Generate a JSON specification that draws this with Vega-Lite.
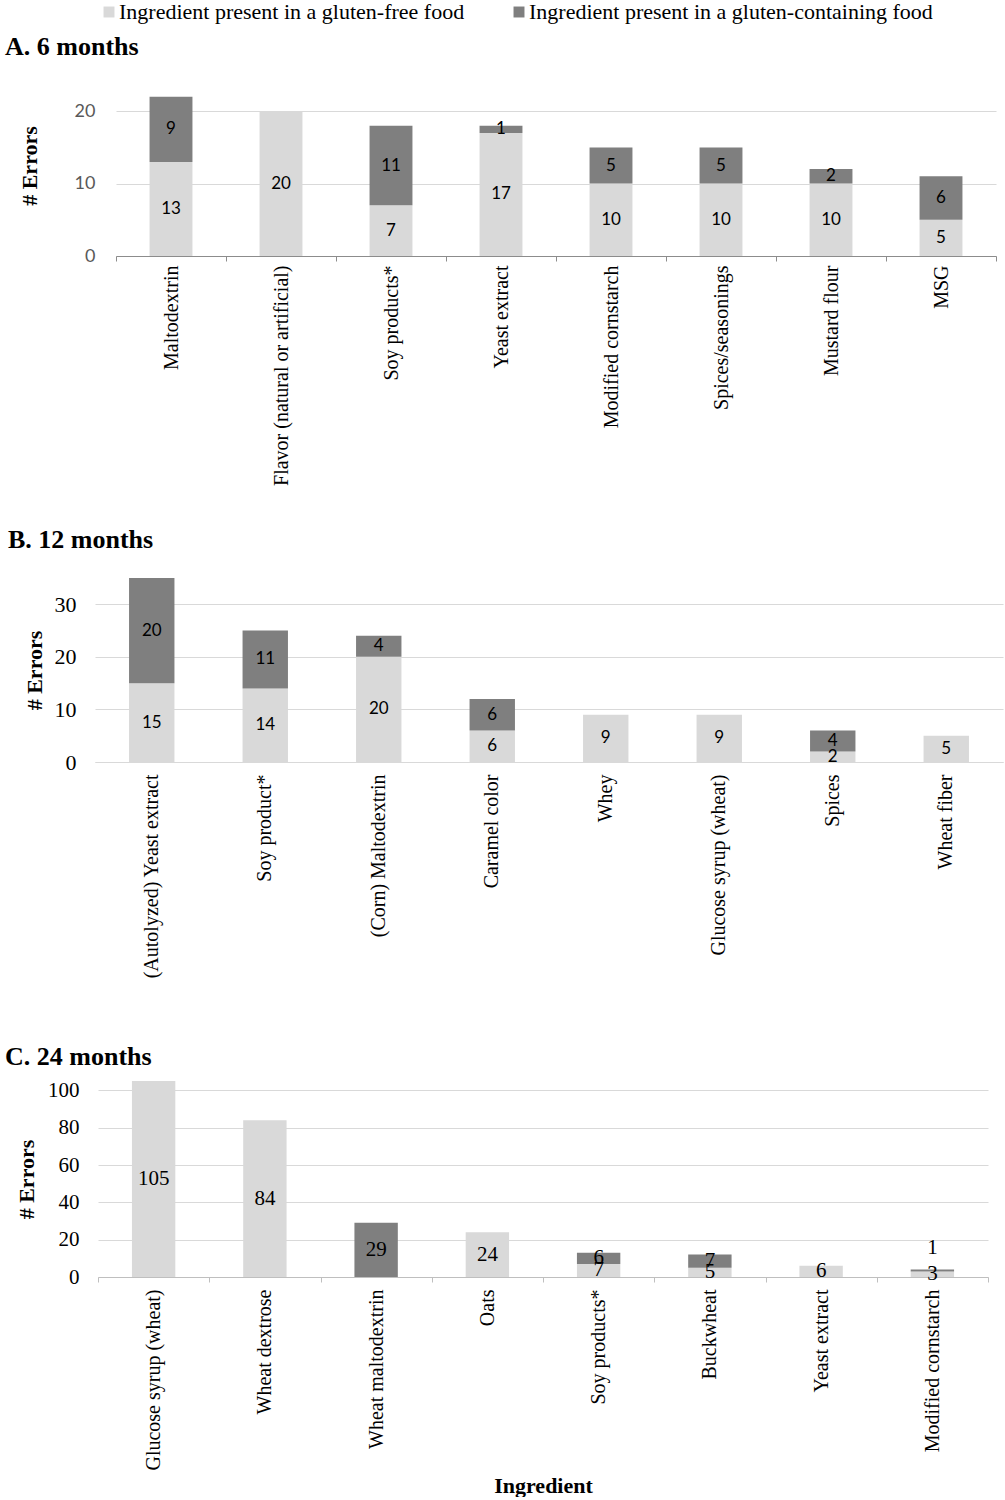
{
  "$schema": "https://vega.github.io/schema/vega-lite/v6.json",
  "padding": {"left": 5, "top": 1, "right": 0, "bottom": 0},
  "background": "white",
  "data": {"values": [
    {"panel": "A", "ingredient": "Maltodextrin", "type": "Ingredient present in a gluten-free food", "errors": 13},
    {"panel": "A", "ingredient": "Maltodextrin", "type": "Ingredient present in a gluten-containing food", "errors": 9},
    {"panel": "A", "ingredient": "Flavor (natural or artificial)", "type": "Ingredient present in a gluten-free food", "errors": 20},
    {"panel": "A", "ingredient": "Soy products*", "type": "Ingredient present in a gluten-free food", "errors": 7},
    {"panel": "A", "ingredient": "Soy products*", "type": "Ingredient present in a gluten-containing food", "errors": 11},
    {"panel": "A", "ingredient": "Yeast extract", "type": "Ingredient present in a gluten-free food", "errors": 17},
    {"panel": "A", "ingredient": "Yeast extract", "type": "Ingredient present in a gluten-containing food", "errors": 1},
    {"panel": "A", "ingredient": "Modified cornstarch", "type": "Ingredient present in a gluten-free food", "errors": 10},
    {"panel": "A", "ingredient": "Modified cornstarch", "type": "Ingredient present in a gluten-containing food", "errors": 5},
    {"panel": "A", "ingredient": "Spices/seasonings", "type": "Ingredient present in a gluten-free food", "errors": 10},
    {"panel": "A", "ingredient": "Spices/seasonings", "type": "Ingredient present in a gluten-containing food", "errors": 5},
    {"panel": "A", "ingredient": "Mustard flour", "type": "Ingredient present in a gluten-free food", "errors": 10},
    {"panel": "A", "ingredient": "Mustard flour", "type": "Ingredient present in a gluten-containing food", "errors": 2},
    {"panel": "A", "ingredient": "MSG", "type": "Ingredient present in a gluten-free food", "errors": 5},
    {"panel": "A", "ingredient": "MSG", "type": "Ingredient present in a gluten-containing food", "errors": 6},
    {"panel": "B", "ingredient": "(Autolyzed) Yeast extract", "type": "Ingredient present in a gluten-free food", "errors": 15},
    {"panel": "B", "ingredient": "(Autolyzed) Yeast extract", "type": "Ingredient present in a gluten-containing food", "errors": 20},
    {"panel": "B", "ingredient": "Soy product*", "type": "Ingredient present in a gluten-free food", "errors": 14},
    {"panel": "B", "ingredient": "Soy product*", "type": "Ingredient present in a gluten-containing food", "errors": 11},
    {"panel": "B", "ingredient": "(Corn) Maltodextrin", "type": "Ingredient present in a gluten-free food", "errors": 20},
    {"panel": "B", "ingredient": "(Corn) Maltodextrin", "type": "Ingredient present in a gluten-containing food", "errors": 4},
    {"panel": "B", "ingredient": "Caramel color", "type": "Ingredient present in a gluten-free food", "errors": 6},
    {"panel": "B", "ingredient": "Caramel color", "type": "Ingredient present in a gluten-containing food", "errors": 6},
    {"panel": "B", "ingredient": "Whey", "type": "Ingredient present in a gluten-free food", "errors": 9},
    {"panel": "B", "ingredient": "Glucose syrup (wheat)", "type": "Ingredient present in a gluten-free food", "errors": 9},
    {"panel": "B", "ingredient": "Spices", "type": "Ingredient present in a gluten-free food", "errors": 2},
    {"panel": "B", "ingredient": "Spices", "type": "Ingredient present in a gluten-containing food", "errors": 4},
    {"panel": "B", "ingredient": "Wheat fiber", "type": "Ingredient present in a gluten-free food", "errors": 5},
    {"panel": "C", "ingredient": "Glucose syrup (wheat)", "type": "Ingredient present in a gluten-free food", "errors": 105},
    {"panel": "C", "ingredient": "Wheat dextrose", "type": "Ingredient present in a gluten-free food", "errors": 84},
    {"panel": "C", "ingredient": "Wheat maltodextrin", "type": "Ingredient present in a gluten-containing food", "errors": 29},
    {"panel": "C", "ingredient": "Oats", "type": "Ingredient present in a gluten-free food", "errors": 24},
    {"panel": "C", "ingredient": "Soy products*", "type": "Ingredient present in a gluten-free food", "errors": 7},
    {"panel": "C", "ingredient": "Soy products*", "type": "Ingredient present in a gluten-containing food", "errors": 6},
    {"panel": "C", "ingredient": "Buckwheat", "type": "Ingredient present in a gluten-free food", "errors": 5},
    {"panel": "C", "ingredient": "Buckwheat", "type": "Ingredient present in a gluten-containing food", "errors": 7},
    {"panel": "C", "ingredient": "Yeast extract", "type": "Ingredient present in a gluten-free food", "errors": 6},
    {"panel": "C", "ingredient": "Modified cornstarch", "type": "Ingredient present in a gluten-free food", "errors": 3},
    {"panel": "C", "ingredient": "Modified cornstarch", "type": "Ingredient present in a gluten-containing food", "errors": 1}
  ]},
  "spacing": 65,
  "vconcat": [
    {
      "spacing": 41,
      "vconcat": [
        {
          "title": {"text": "A. 6 months", "anchor": "start", "frame": "group", "dx": -93, "offset": 15, "font": "Liberation Serif", "fontSize": 26, "fontWeight": "bold", "color": "#000000"},
          "width": 898,
          "height": 181,
          "layer": [
            {
              "transform": [{"filter": "datum.panel === 'A'"}],
              "mark": {"type": "bar", "width": {"band": 0.39}},
              "encoding": {
                "x": {"field": "ingredient", "type": "nominal", "sort": ["Maltodextrin", "Flavor (natural or artificial)", "Soy products*", "Yeast extract", "Modified cornstarch", "Spices/seasonings", "Mustard flour", "MSG"], "scale": {"paddingInner": 0, "paddingOuter": 0, "range": [18, 898]},
                  "axis": {"title": null, "labelAngle": -90, "labelFont": "Liberation Serif", "labelFontSize": 20, "labelColor": "#000000", "labelLimit": 400, "labelPadding": 4, "labelOverlap": false, "tickBand": "extent", "tickSize": 5, "tickColor": "#8c8c8c", "domainColor": "#8c8c8c", "grid": false}},
                "y": {"field": "errors", "type": "quantitative", "stack": "zero", "scale": {"domain": [0, 25], "nice": false},
                  "axis": {"title": "# Errors", "titleFont": "Liberation Serif", "titleFontSize": 22, "titleFontWeight": "bold", "titleColor": "#000000", "titlePadding": 33, "labelFont": "Lato", "labelFontSize": 18, "labelColor": "#595959", "labelPadding": 3, "labelOverlap": false, "values": [0, 10, 20], "tickCount": 10, "domain": false, "ticks": false, "gridColor": "#d9d9d9"}},
                "color": {"field": "type", "type": "nominal", "scale": {"domain": ["Ingredient present in a gluten-free food", "Ingredient present in a gluten-containing food"], "range": ["#d9d9d9", "#7f7f7f"]},
                  "legend": {"title": null, "orient": "none", "legendX": 0, "legendY": -74, "direction": "horizontal", "labelFont": "Liberation Serif", "labelFontSize": 22, "labelColor": "#000000", "symbolType": "square", "symbolSize": 120, "symbolStrokeWidth": 0, "labelOffset": -1, "columnPadding": 43, "labelLimit": 500}},
                "order": {"field": "type", "sort": "descending"}
              }
            },
            {
              "transform": [
                {"filter": "datum.panel === 'A'"},
                {"stack": "errors", "groupby": ["ingredient"], "sort": [{"field": "type", "order": "descending"}], "as": ["s0", "s1"]},
                {"fold": ["s0", "s1"], "as": ["k", "v"]},
                {"aggregate": [{"op": "mean", "field": "v", "as": "mid"}], "groupby": ["ingredient", "type", "errors"]}
              ],
              "mark": {"type": "text", "font": "Lato", "fontSize": 17, "color": "#000000"},
              "encoding": {
                "x": {"field": "ingredient", "type": "nominal", "sort": ["Maltodextrin", "Flavor (natural or artificial)", "Soy products*", "Yeast extract", "Modified cornstarch", "Spices/seasonings", "Mustard flour", "MSG"]},
                "y": {"field": "mid", "type": "quantitative"},
                "text": {"field": "errors", "type": "quantitative"}
              }
            }
          ]
        },
        {
          "title": {"text": "B. 12 months", "anchor": "start", "frame": "group", "dx": -90, "offset": 25, "font": "Liberation Serif", "fontSize": 26, "fontWeight": "bold", "color": "#000000"},
          "width": 905,
          "height": 184,
          "layer": [
            {
              "transform": [{"filter": "datum.panel === 'B'"}],
              "mark": {"type": "bar", "width": {"band": 0.4}},
              "encoding": {
                "x": {"field": "ingredient", "type": "nominal", "sort": ["(Autolyzed) Yeast extract", "Soy product*", "(Corn) Maltodextrin", "Caramel color", "Whey", "Glucose syrup (wheat)", "Spices", "Wheat fiber"], "scale": {"paddingInner": 0, "paddingOuter": 0, "range": [-3, 905]},
                  "axis": {"title": null, "labelAngle": -90, "labelFont": "Liberation Serif", "labelFontSize": 20, "labelColor": "#000000", "labelLimit": 400, "labelPadding": 12, "labelOverlap": false, "ticks": false, "domainColor": "#d9d9d9", "grid": false}},
                "y": {"field": "errors", "type": "quantitative", "stack": "zero", "scale": {"domain": [0, 35], "nice": false},
                  "axis": {"title": "# Errors", "titleFont": "Liberation Serif", "titleFontSize": 22, "titleFontWeight": "bold", "titleColor": "#000000", "titlePadding": 8, "labelFont": "Liberation Serif", "labelFontSize": 22, "labelColor": "#000000", "labelPadding": 22, "labelOverlap": false, "values": [0, 10, 20, 30], "tickCount": 10, "domain": false, "ticks": false, "gridColor": "#d9d9d9"}},
                "color": {"field": "type", "type": "nominal", "scale": {"domain": ["Ingredient present in a gluten-free food", "Ingredient present in a gluten-containing food"], "range": ["#d9d9d9", "#7f7f7f"]},
                  "legend": {"title": null, "orient": "none", "legendX": 0, "legendY": -74, "direction": "horizontal", "labelFont": "Liberation Serif", "labelFontSize": 22, "labelColor": "#000000", "symbolType": "square", "symbolSize": 120, "symbolStrokeWidth": 0, "labelOffset": -1, "columnPadding": 43, "labelLimit": 500}},
                "order": {"field": "type", "sort": "descending"}
              }
            },
            {
              "transform": [
                {"filter": "datum.panel === 'B'"},
                {"stack": "errors", "groupby": ["ingredient"], "sort": [{"field": "type", "order": "descending"}], "as": ["s0", "s1"]},
                {"fold": ["s0", "s1"], "as": ["k", "v"]},
                {"aggregate": [{"op": "mean", "field": "v", "as": "mid"}], "groupby": ["ingredient", "type", "errors"]}
              ],
              "mark": {"type": "text", "font": "Lato", "fontSize": 17, "color": "#000000"},
              "encoding": {
                "x": {"field": "ingredient", "type": "nominal", "sort": ["(Autolyzed) Yeast extract", "Soy product*", "(Corn) Maltodextrin", "Caramel color", "Whey", "Glucose syrup (wheat)", "Spices", "Wheat fiber"]},
                "y": {"field": "mid", "type": "quantitative"},
                "text": {"field": "errors", "type": "quantitative"}
              }
            }
          ]
        }
      ]
    },
    {
      "title": {"text": "C. 24 months", "anchor": "start", "frame": "group", "dx": -93, "offset": 9, "font": "Liberation Serif", "fontSize": 26, "fontWeight": "bold", "color": "#000000"},
      "width": 890,
      "height": 196,
      "layer": [
        {
          "transform": [{"filter": "datum.panel === 'C'"}],
          "mark": {"type": "bar", "width": {"band": 0.39}},
          "encoding": {
            "x": {"field": "ingredient", "type": "nominal", "sort": ["Glucose syrup (wheat)", "Wheat dextrose", "Wheat maltodextrin", "Oats", "Soy products*", "Buckwheat", "Yeast extract", "Modified cornstarch"], "scale": {"paddingInner": 0, "paddingOuter": 0},
              "axis": {"title": "Ingredient", "titleFont": "Liberation Serif", "titleFontSize": 22, "titleFontWeight": "bold", "titleColor": "#000000", "titlePadding": 5, "labelAngle": -90, "labelFont": "Liberation Serif", "labelFontSize": 20, "labelColor": "#000000", "labelLimit": 400, "labelPadding": 7, "labelOverlap": false, "tickBand": "extent", "tickSize": 5, "tickColor": "#bfbfbf", "domainColor": "#bfbfbf", "grid": false}},
            "y": {"field": "errors", "type": "quantitative", "stack": "zero", "scale": {"domain": [0, 105], "nice": false},
              "axis": {"title": "# Errors", "titleFont": "Liberation Serif", "titleFontSize": 22, "titleFontWeight": "bold", "titleColor": "#000000", "titlePadding": 9, "labelFont": "Liberation Serif", "labelFontSize": 21, "labelColor": "#000000", "labelPadding": 19, "labelOverlap": false, "labelFlush": false, "values": [0, 20, 40, 60, 80, 100], "tickCount": 10, "domain": false, "ticks": false, "gridColor": "#d9d9d9"}},
            "color": {"field": "type", "type": "nominal", "scale": {"domain": ["Ingredient present in a gluten-free food", "Ingredient present in a gluten-containing food"], "range": ["#d9d9d9", "#7f7f7f"]},
              "legend": {"title": null, "orient": "none", "legendX": 0, "legendY": -74, "direction": "horizontal", "labelFont": "Liberation Serif", "labelFontSize": 22, "labelColor": "#000000", "symbolType": "square", "symbolSize": 120, "symbolStrokeWidth": 0, "labelOffset": -1, "columnPadding": 43, "labelLimit": 500}},
            "order": {"field": "type", "sort": "descending"}
          }
        },
        {
          "transform": [
            {"filter": "datum.panel === 'C'"},
            {"stack": "errors", "groupby": ["ingredient"], "sort": [{"field": "type", "order": "descending"}], "as": ["s0", "s1"]},
            {"fold": ["s0", "s1"], "as": ["k", "v"]},
            {"aggregate": [{"op": "mean", "field": "v", "as": "mid"}], "groupby": ["ingredient", "type", "errors"]},
            {"filter": "!(datum.ingredient === 'Modified cornstarch' && datum.type === 'Ingredient present in a gluten-containing food')"}
          ],
          "mark": {"type": "text", "font": "Liberation Serif", "fontSize": 21, "color": "#000000"},
          "encoding": {
            "x": {"field": "ingredient", "type": "nominal", "sort": ["Glucose syrup (wheat)", "Wheat dextrose", "Wheat maltodextrin", "Oats", "Soy products*", "Buckwheat", "Yeast extract", "Modified cornstarch"]},
            "y": {"field": "mid", "type": "quantitative"},
            "text": {"field": "errors", "type": "quantitative"}
          }
        },
        {
          "transform": [
            {"filter": "datum.panel === 'C'"},
            {"stack": "errors", "groupby": ["ingredient"], "sort": [{"field": "type", "order": "descending"}], "as": ["s0", "s1"]},
            {"fold": ["s0", "s1"], "as": ["k", "v"]},
            {"aggregate": [{"op": "mean", "field": "v", "as": "mid"}], "groupby": ["ingredient", "type", "errors"]},
            {"filter": "datum.ingredient === 'Modified cornstarch' && datum.type === 'Ingredient present in a gluten-containing food'"}
          ],
          "mark": {"type": "text", "font": "Liberation Serif", "fontSize": 21, "color": "#000000", "dy": -22},
          "encoding": {
            "x": {"field": "ingredient", "type": "nominal", "sort": ["Glucose syrup (wheat)", "Wheat dextrose", "Wheat maltodextrin", "Oats", "Soy products*", "Buckwheat", "Yeast extract", "Modified cornstarch"]},
            "y": {"field": "mid", "type": "quantitative"},
            "text": {"field": "errors", "type": "quantitative"}
          }
        }
      ]
    }
  ],
  "config": {
    "view": {"stroke": null},
    "axis": {"labelOverlap": false}
  }
}
